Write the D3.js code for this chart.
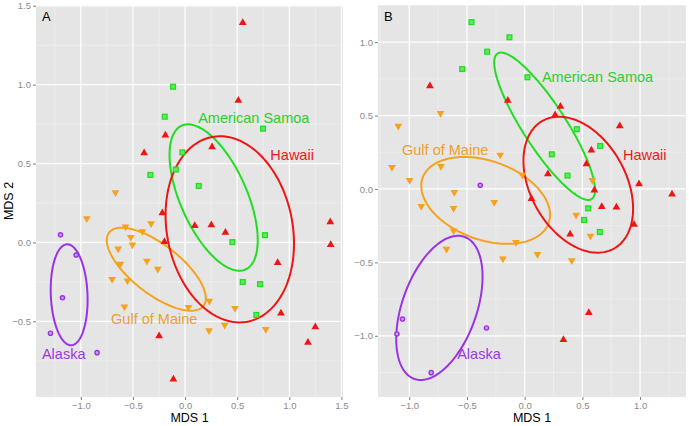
<!DOCTYPE html>
<html>
<head>
<meta charset="utf-8">
<script src="https://cdn.jsdelivr.net/npm/d3@7"></script>
<style>
  body { margin: 0; background: #fff; }
  svg { display: block; font-family: "Liberation Sans", Arial, sans-serif; }
</style>
</head>
<body>
<svg id="chart" width="689" height="426"></svg>
<script>
// ---------------- DATA ----------------
const groups = ["Hawaii", "American Samoa", "Gulf of Maine", "Alaska"];
const ticksX = [-1.0, -0.5, 0.0, 0.5, 1.0, 1.5];
const ticksYA = [-0.5, 0.0, 0.5, 1.0, 1.5];
const ticksYB = [-1.0, -0.5, 0.0, 0.5, 1.0];

// Panel A points [MDS1, MDS2]
const aHawaii = [[-0.189,0.679],[-0.393,0.567],[0.553,1.392],[0.511,0.90],[0.259,0.605],[-0.218,0.187],[-0.198,0.004],[-0.249,-0.593],[-0.112,-0.867],[0.093,0.105],[0.252,0.111],[0.387,0.063],[1.393,0.130],[1.397,-0.015],[0.888,-0.129],[0.920,-0.449],[1.249,-0.536],[1.179,-0.635]];
const aSamoa = [[-0.115,0.987],[-0.195,0.797],[-0.333,0.428],[-0.089,0.462],[0.748,0.721],[-0.026,0.571],[0.131,0.358],[0.454,0.002],[0.767,0.046],[0.553,-0.251],[0.719,-0.264],[0.684,-0.460]];
const aMaine = [[-0.668,0.316],[-0.943,0.152],[-0.572,0.099],[-0.326,0.120],[-0.409,0.070],[-0.521,0.032],[-0.505,-0.015],[-0.642,-0.040],[-0.620,-0.137],[-0.367,-0.118],[-0.262,-0.169],[-0.700,-0.234],[-0.553,-0.243],[-0.582,-0.408],[0.233,-0.372],[0.032,-0.411],[0.479,-0.418],[0.380,-0.523],[0.230,-0.559],[0.774,-0.551]];
const aAlaska = [[-1.195,0.048],[-1.045,-0.080],[-1.176,-0.351],[-1.291,-0.576],[-0.844,-0.699]];

// Panel B points
const bHawaii = [[-0.821,0.702],[-0.146,0.602],[0.310,0.561],[0.264,0.504],[0.824,0.429],[0.578,0.263],[0.535,0.170],[0.201,0.102],[0.604,-0.009],[0.991,0.034],[1.277,-0.036],[0.059,-0.066],[0.668,-0.121],[0.795,-0.125],[0.948,-0.243],[0.394,-0.309],[0.556,-0.843],[0.336,-1.027]];
const bSamoa = [[-0.461,1.136],[-0.132,1.033],[-0.325,0.935],[-0.541,0.817],[0.024,0.761],[0.452,0.407],[0.654,0.293],[0.235,0.236],[0.371,0.091],[0.550,-0.132],[0.515,-0.211],[0.651,-0.293]];
const bMaine = [[-0.729,0.516],[-1.095,0.429],[-0.212,0.232],[-1.150,0.148],[-0.726,0.155],[-0.997,0.059],[-0.610,-0.022],[-0.019,0.095],[0.587,0.059],[-0.896,-0.118],[-0.616,-0.132],[-0.264,-0.091],[-0.616,-0.284],[-0.677,-0.409],[-0.189,-0.475],[-0.076,-0.363],[0.446,-0.177],[0.570,-0.320],[0.111,-0.445],[0.408,-0.488]];
const bAlaska = [[-0.385,0.025],[-1.058,-0.886],[-1.107,-0.988],[-0.331,-0.947],[-0.810,-1.251]];

// Ellipses: center (cx, cy), half-width w, half-height h, vertical offset c of the rightmost point (data units)
const ellipsesA = [
  {g:"Alaska", cx:-1.112, cy:-0.332, w:0.177, h:0.320, c:-0.032},
  {g:"Gulf of Maine", cx:-0.276, cy:-0.170, w:0.475, h:0.263, c:-0.184},
  {g:"American Samoa", cx:0.274, cy:0.2845, w:0.423, h:0.464, c:-0.270},
  {g:"Hawaii", cx:0.429, cy:0.083, w:0.616, h:0.590, c:-0.090}
];
const ellipsesB = [
  {g:"Alaska", cx:-0.739, cy:-0.810, w:0.374, h:0.491, c:0.212},
  {g:"Gulf of Maine", cx:-0.338, cy:-0.078, w:0.558, h:0.296, c:-0.099},
  {g:"American Samoa", cx:0.173, cy:0.427, w:0.437, h:0.502, c:-0.434},
  {g:"Hawaii", cx:0.4645, cy:0.029, w:0.475, h:0.463, c:-0.163}
];

// Group label positions (data units)
const labelsA = [
  {g:"American Samoa", x:0.659, y:0.788},
  {g:"Hawaii", x:1.027, y:0.555},
  {g:"Gulf of Maine", x:-0.296, y:-0.485},
  {g:"Alaska", x:-1.164, y:-0.707}
];
const labelsB = [
  {g:"American Samoa", x:0.631, y:0.761},
  {g:"Hawaii", x:1.040, y:0.232},
  {g:"Gulf of Maine", x:-0.689, y:0.270},
  {g:"Alaska", x:-0.396, y:-1.126}
];

// ---------------- STYLE ----------------
const colors = {
  "Hawaii": "#EE1515",
  "American Samoa": "#22DD22",
  "Gulf of Maine": "#F5A21E",
  "Alaska": "#9A32E6"
};
const textColors = {
  "Hawaii": "#E81A1A",
  "American Samoa": "#2CCF2C",
  "Gulf of Maine": "#EBA030",
  "Alaska": "#9A38E2"
};

const svg = d3.select("#chart");

function panel(cfg) {
  const x = d3.scaleLinear().domain(cfg.xDomain).range([cfg.left, cfg.right]);
  const y = d3.scaleLinear().domain(cfg.yDomain).range([cfg.bottom, cfg.top]);
  const g = svg.append("g");

  g.append("rect").attr("x", cfg.left).attr("y", cfg.top)
    .attr("width", cfg.right - cfg.left).attr("height", cfg.bottom - cfg.top)
    .attr("fill", "#E5E5E5");

  const minorX = cfg.xTicks.map(v => v - 0.25).concat([cfg.xTicks[cfg.xTicks.length-1] + 0.25])
    .filter(v => v > cfg.xDomain[0] && v < cfg.xDomain[1]);
  const minorY = cfg.yTicks.map(v => v - 0.25).concat([cfg.yTicks[cfg.yTicks.length-1] + 0.25])
    .filter(v => v > cfg.yDomain[0] && v < cfg.yDomain[1]);
  g.selectAll(".mx").data(minorX).join("line")
    .attr("x1", d => x(d)).attr("x2", d => x(d)).attr("y1", cfg.top).attr("y2", cfg.bottom)
    .attr("stroke", "#F2F2F2").attr("stroke-width", 0.6);
  g.selectAll(".my").data(minorY).join("line")
    .attr("y1", d => y(d)).attr("y2", d => y(d)).attr("x1", cfg.left).attr("x2", cfg.right)
    .attr("stroke", "#F2F2F2").attr("stroke-width", 0.6);
  g.selectAll(".gx").data(cfg.xTicks.filter(v => v >= cfg.xDomain[0] && v <= cfg.xDomain[1])).join("line")
    .attr("x1", d => x(d)).attr("x2", d => x(d)).attr("y1", cfg.top).attr("y2", cfg.bottom)
    .attr("stroke", "#FFFFFF").attr("stroke-width", 1.2);
  g.selectAll(".gy").data(cfg.yTicks).join("line")
    .attr("y1", d => y(d)).attr("y2", d => y(d)).attr("x1", cfg.left).attr("x2", cfg.right)
    .attr("stroke", "#FFFFFF").attr("stroke-width", 1.2);

  const fmt = d3.format(".1f");
  const xAxis = d3.axisBottom(x).tickValues(cfg.xTicks.filter(v => v >= cfg.xDomain[0] && v <= cfg.xDomain[1]))
    .tickFormat(fmt).tickSize(3).tickPadding(2);
  const yAxis = d3.axisLeft(y).tickValues(cfg.yTicks).tickFormat(fmt).tickSize(3).tickPadding(2);
  const xa = g.append("g").attr("transform", `translate(0,${cfg.bottom})`).call(xAxis);
  const ya = g.append("g").attr("transform", `translate(${cfg.left},0)`).call(yAxis);
  [xa, ya].forEach(a => {
    a.select(".domain").remove();
    a.selectAll(".tick line").attr("stroke", "#7F7F7F");
    a.selectAll(".tick text").attr("fill", "#8A8A8A").style("font-size", "9.5px")
      .style("font-family", "'Liberation Sans', Arial, sans-serif");
  });

  const line = d3.line().x(d => x(d[0])).y(d => y(d[1])).curve(d3.curveLinearClosed);
  const ts = d3.range(0, 2 * Math.PI, Math.PI / 90);
  cfg.ellipses.forEach(e => {
    const dd = Math.sqrt(Math.max(e.h * e.h - e.c * e.c, 0));
    const pts = ts.map(t => [e.cx + e.w * Math.cos(t), e.cy + e.c * Math.cos(t) + dd * Math.sin(t)]);
    g.append("path").attr("d", line(pts)).attr("fill", "none")
      .attr("stroke", colors[e.g]).attr("stroke-width", 2);
  });

  const tri = d3.symbol().type(d3.symbolTriangle).size(26);
  g.selectAll(".hi").data(cfg.hawaii).join("path")
    .attr("d", tri).attr("transform", d => `translate(${x(d[0])},${y(d[1])})`)
    .attr("fill", colors["Hawaii"]);
  g.selectAll(".gm").data(cfg.maine).join("path")
    .attr("d", tri).attr("transform", d => `translate(${x(d[0])},${y(d[1])}) rotate(180)`)
    .attr("fill", colors["Gulf of Maine"]);
  g.selectAll(".as").data(cfg.samoa).join("rect")
    .attr("x", d => x(d[0]) - 2.4).attr("y", d => y(d[1]) - 2.4)
    .attr("width", 4.8).attr("height", 4.8)
    .attr("fill", "#5EEA5E").attr("stroke", colors["American Samoa"]).attr("stroke-width", 1.3);
  g.selectAll(".ak").data(cfg.alaska).join("circle")
    .attr("cx", d => x(d[0])).attr("cy", d => y(d[1])).attr("r", 2.1)
    .attr("fill", "#C9A0EE").attr("stroke", colors["Alaska"]).attr("stroke-width", 1.4);

  g.selectAll(".lb").data(cfg.labels).join("text")
    .attr("x", d => x(d.x)).attr("y", d => y(d.y)).attr("dy", "0.36em")
    .attr("text-anchor", "middle").attr("fill", d => textColors[d.g])
    .style("font-size", "14.5px").text(d => d.g);

  g.append("text").attr("x", cfg.left + 6).attr("y", cfg.top + 15.5)
    .style("font-size", "13px").attr("fill", "#000").text(cfg.letter);

  g.append("text").attr("x", (cfg.left + cfg.right) / 2).attr("y", 422)
    .attr("text-anchor", "middle").style("font-size", "12.5px").attr("fill", "#000").text("MDS 1");
}

panel({
  letter: "A", left: 36, right: 343, top: 5, bottom: 397,
  xDomain: [-1.43, 1.515], yDomain: [-0.98, 1.505],
  xTicks: ticksX, yTicks: ticksYA,
  hawaii: aHawaii, samoa: aSamoa, maine: aMaine, alaska: aAlaska,
  ellipses: ellipsesA, labels: labelsA
});
panel({
  letter: "B", left: 378, right: 686, top: 5, bottom: 397,
  xDomain: [-1.271, 1.398], yDomain: [-1.417, 1.253],
  xTicks: ticksX, yTicks: ticksYB,
  hawaii: bHawaii, samoa: bSamoa, maine: bMaine, alaska: bAlaska,
  ellipses: ellipsesB, labels: labelsB
});

svg.append("text").attr("transform", "translate(13,201) rotate(-90)")
  .attr("text-anchor", "middle").style("font-size", "12.5px").attr("fill", "#000").text("MDS 2");
</script>
</body>
</html>
